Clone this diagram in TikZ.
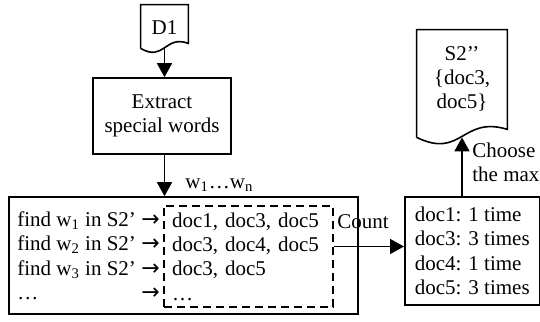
\documentclass[tikz,border=0pt]{standalone}
\usepackage{fontspec}
\setmainfont{Liberation Serif}
\newfontfamily\arrowfont{DejaVu Sans}
\usetikzlibrary{arrows.meta,calc}

\tikzset{
    box/.style={draw, thick, inner sep=0pt},
    arr/.style={thick, -{Triangle[length=7pt,width=7.5pt]}},
}

% paper sheet with a wavy lower edge: node, rise of the right end, shift of the left end
\newcommand{\docoutline}[3]{%
    \draw[thick] ([yshift=#3]#1.south west) -- (#1.north west) -- (#1.north east)
        -- ([yshift={(#2)+(#3)}]#1.south east)
        .. controls ($(#1.south)+(0,{2.75*(#2)+(#3)})$) and ($(#1.south)+(0,{-2.75*(#2)+(#3)})$)
        .. ([yshift=#3]#1.south west);}
\newcommand{\findarrow}{{\arrowfont\fontsize{11}{12.2}\selectfont →}}

\begin{document}
\begin{tikzpicture}[x=0.5pt, y=0.5pt, font=\fontsize{10.5}{12.2}\selectfont]
    \useasboundingbox (0,0) rectangle (540,321);

    \node[minimum width=23.5pt, minimum height=23pt, inner sep=0pt] (d1) at (164.5,293) {D1};
    \docoutline{d1}{2.5pt}{1.5pt}
    \node[box, minimum width=69pt, minimum height=38pt, align=center] (extract) at (162,205) {Extract\\special words};

    \node[box, minimum width=174.5pt, minimum height=58.5pt] (findbox) at (183.5,65.5) {};
    \node[anchor=west, inner sep=0pt] (finds) at (17,63) {%
        \begin{tabular}{@{}l@{ }l@{}}
            find w\textsubscript{1} in S2’ & \findarrow \\
            find w\textsubscript{2} in S2’ & \findarrow \\
            find w\textsubscript{3} in S2’ & \findarrow \\
            … & \findarrow
        \end{tabular}};
    \node[draw, thick, dash pattern=on 4pt off 2.5pt, minimum width=84.5pt, minimum height=49.5pt,
        text width=76.5pt, inner xsep=4pt, align=left] (hits) at (248.5,64.5)
        {doc1, doc3, doc5\\doc3, doc4, doc5\\doc3, doc5\\…};

    \node[box, anchor=west, minimum width=67pt, minimum height=54pt, inner xsep=5pt, align=left] (tally) at (404,70)
        {doc1: 1 time\\doc3: 3 times\\doc4: 1 time\\doc5: 3 times};

    \node[minimum width=45pt, minimum height=49pt, inner sep=0pt, align=center] (s2) at (462,242) {S2’’\\\{doc3,\\doc5\}};
    \docoutline{s2}{4pt}{-4.5pt}

    \node[anchor=west, inner sep=1pt] (wlabel) at (183,136) {w\textsubscript{1}…w\textsubscript{n}};
    \node (count) at (363,99) {Count};
    \node[anchor=west, inner sep=1pt, align=left] (choose) at (470,158.5) {Choose\\the max};

    \draw[arr] ([yshift=1.5pt]d1.south) -- (d1.south |- extract.north);
    \draw[arr] (d1.south |- extract.south) -- (d1.south |- findbox.north);
    \coordinate (countout) at ([yshift=5pt]hits.east);
    \draw[arr] (countout) -- (countout -| tally.west);
    \draw[arr] (s2.south |- tally.north) -- ([yshift=-4.5pt]s2.south);

\end{tikzpicture}
\end{document}
